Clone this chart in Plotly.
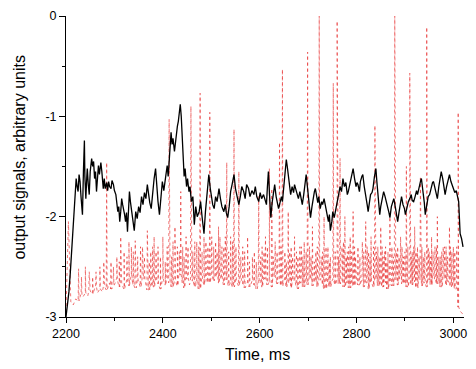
import plotly.graph_objects as go

# ---------------- data ----------------
black_t = [2200, 2203, 2206, 2209, 2212, 2214, 2216, 2218, 2221, 2223, 2225, 2227, 2229, 2231, 2234, 2236, 2238, 2239,
           2241, 2243, 2244, 2246, 2248, 2250, 2253, 2255, 2257, 2259, 2261, 2263, 2265, 2267, 2269, 2272, 2274, 2277,
           2279, 2281, 2284, 2286, 2288, 2290, 2293, 2295, 2298, 2300, 2303, 2305, 2307, 2309, 2311, 2313, 2315, 2317,
           2319, 2321, 2323, 2325, 2327, 2329, 2331, 2333, 2336, 2338, 2341, 2344, 2347, 2350, 2353, 2356, 2359, 2362,
           2365, 2368, 2371, 2373, 2376, 2379, 2382, 2385, 2387, 2390, 2393, 2395, 2397, 2399, 2402, 2405, 2407, 2409,
           2411, 2413, 2415, 2417, 2419, 2421, 2424, 2426, 2428, 2430, 2432, 2434, 2436, 2438, 2440, 2442, 2444, 2446,
           2449, 2451, 2454, 2456, 2459, 2462, 2465, 2468, 2471, 2475, 2478, 2481, 2485, 2488, 2491, 2493, 2495, 2498,
           2500, 2503, 2506, 2509, 2512, 2516, 2519, 2522, 2526, 2529, 2531, 2534, 2537, 2540, 2543, 2547, 2550, 2553,
           2557, 2560, 2563, 2567, 2570, 2573, 2577, 2580, 2584, 2588, 2591, 2594, 2598, 2601, 2604, 2608, 2611, 2614,
           2616, 2618, 2620, 2623, 2626, 2628, 2631, 2634, 2636, 2639, 2642, 2645, 2647, 2650, 2653, 2655, 2657, 2660,
           2662, 2664, 2667, 2670, 2672, 2675, 2678, 2680, 2683, 2686, 2688, 2691, 2693, 2696, 2699, 2702, 2705, 2708,
           2711, 2713, 2715, 2718, 2720, 2722, 2725, 2728, 2730, 2733, 2736, 2739, 2742, 2744, 2746, 2749, 2751, 2754,
           2757, 2760, 2763, 2766, 2769, 2772, 2775, 2778, 2781, 2783, 2786, 2789, 2791, 2793, 2796, 2799, 2801, 2803,
           2806, 2808, 2811, 2813, 2816, 2819, 2822, 2824, 2827, 2829, 2832, 2834, 2837, 2840, 2842, 2845, 2848, 2850,
           2853, 2856, 2859, 2862, 2865, 2867, 2869, 2872, 2875, 2877, 2880, 2882, 2885, 2888, 2891, 2893, 2896, 2899,
           2901, 2904, 2907, 2910, 2913, 2915, 2918, 2921, 2924, 2926, 2929, 2932, 2934, 2937, 2940, 2942, 2945, 2948,
           2951, 2954, 2957, 2959, 2962, 2965, 2967, 2970, 2973, 2975, 2978, 2981, 2983, 2986, 2989, 2992, 2995, 2998,
           3000, 3003, 3006, 3008, 3011, 3014, 3017, 3020]
black_v = [-3.00, -2.90, -2.75, -2.55, -2.31, -2.15, -1.98, -1.85, -1.62, -1.70, -1.75, -1.58, -1.65, -1.80, -1.98, -1.55, -1.24, -1.60,
           -1.82, -1.60, -1.52, -1.68, -1.78, -1.55, -1.42, -1.50, -1.45, -1.62, -1.55, -1.75, -1.60, -1.49, -1.58, -1.46, -1.55, -1.72,
           -1.62, -1.72, -1.66, -1.74, -1.65, -1.70, -1.72, -1.64, -1.68, -1.74, -1.78, -1.86, -1.95, -1.90, -2.05, -1.95, -1.82, -1.88,
           -1.92, -1.98, -2.05, -1.96, -2.15, -1.95, -1.75, -1.85, -1.96, -2.05, -2.14, -1.95, -2.02, -1.90, -1.96, -1.80, -1.88, -1.76,
           -1.82, -1.68, -1.80, -1.86, -1.92, -1.75, -1.62, -1.52, -1.68, -1.85, -1.98, -1.86, -1.72, -1.65, -1.74, -1.62, -1.55, -1.49,
           -1.60, -1.42, -1.30, -1.16, -1.28, -1.22, -1.35, -1.25, -1.18, -1.10, -1.05, -0.95, -0.88, -1.00, -1.20, -1.45, -1.60, -1.52,
           -1.70, -1.62, -1.75, -1.70, -1.85, -1.80, -2.08, -1.90, -2.00, -1.95, -1.85, -2.00, -2.17, -1.95, -1.75, -1.65, -1.58, -1.72,
           -1.80, -1.88, -1.92, -1.80, -1.85, -1.72, -1.82, -1.90, -1.95, -1.88, -1.96, -2.01, -1.90, -1.75, -1.68, -1.58, -1.72, -1.80,
           -1.88, -1.80, -1.70, -1.75, -1.82, -1.68, -1.72, -1.80, -1.74, -1.78, -1.70, -1.80, -1.85, -1.76, -1.82, -1.78, -1.84, -1.88,
           -1.70, -1.55, -1.75, -2.01, -1.85, -1.78, -1.68, -1.80, -1.86, -1.92, -1.86, -1.80, -1.85, -1.70, -1.55, -1.43, -1.50, -1.65,
           -1.72, -1.78, -1.70, -1.76, -1.68, -1.74, -1.80, -1.82, -1.75, -1.85, -1.88, -1.78, -1.70, -1.58, -1.72, -1.86, -2.01, -1.90,
           -1.80, -1.75, -1.72, -1.80, -1.86, -1.80, -1.92, -1.85, -1.88, -1.82, -1.90, -1.96, -2.05, -1.98, -2.14, -2.05, -1.95, -2.01,
           -1.92, -1.85, -1.78, -1.70, -1.75, -1.62, -1.70, -1.66, -1.78, -1.75, -1.68, -1.60, -1.56, -1.52, -1.62, -1.70, -1.66, -1.68,
           -1.75, -1.65, -1.60, -1.58, -1.70, -1.82, -1.88, -1.95, -1.85, -1.78, -1.76, -1.72, -1.60, -1.52, -1.65, -1.85, -1.98, -1.90,
           -1.80, -1.75, -1.80, -1.88, -1.92, -1.96, -2.01, -1.90, -1.86, -1.82, -1.90, -1.96, -2.05, -1.95, -1.85, -1.80, -1.88, -1.92,
           -1.98, -1.90, -1.85, -1.82, -1.78, -1.84, -1.85, -1.80, -1.74, -1.78, -1.70, -1.65, -1.62, -1.72, -1.86, -1.98, -1.88, -1.80,
           -1.78, -1.70, -1.66, -1.65, -1.72, -1.80, -1.82, -1.70, -1.60, -1.55, -1.62, -1.72, -1.78, -1.70, -1.64, -1.58, -1.65, -1.70,
           -1.72, -1.76, -1.74, -1.78, -1.85, -2.17, -2.22, -2.30]

# red baseline, one value every 5 ms from 2200 to 3020
red_base_t0 = 2200
red_base_step = 5
red_base_v = [
    -2.95, -2.05, -2.85, -2.88, -2.82, -2.84, -2.78, -2.80, -2.76, -2.79,
    -2.74, -2.77, -2.70, -2.76, -2.72, -2.75, -2.70, -2.73, -2.66, -2.72,
    -2.68, -2.62, -2.70, -2.66, -2.72, -2.64, -2.69, -2.60, -2.68, -2.71,
    -2.64, -2.70, -2.62, -2.68, -2.73, -2.65, -2.70, -2.62, -2.67, -2.72,
    -2.62, -2.68, -2.60, -2.66, -2.70, -2.63, -2.69, -2.58, -2.66, -2.71,
    -2.62, -2.68, -2.64, -2.70, -2.66, -2.72, -2.63, -2.68, -2.60, -2.66,
    -2.58, -2.64, -2.60, -2.66, -2.62, -2.68, -2.63, -2.69, -2.65, -2.70,
    -2.64, -2.69, -2.62, -2.67, -2.71, -2.65, -2.70, -2.63, -2.68, -2.72,
    -2.66, -2.70, -2.62, -2.68, -2.64, -2.70, -2.60, -2.67, -2.62, -2.69,
    -2.63, -2.70, -2.66, -2.71, -2.64, -2.69, -2.72, -2.66, -2.70, -2.64,
    -2.68, -2.62, -2.69, -2.65, -2.70, -2.63, -2.68, -2.72, -2.66, -2.70,
    -2.63, -2.68, -2.61, -2.67, -2.64, -2.70, -2.66, -2.71, -2.65, -2.69,
    -2.62, -2.68, -2.64, -2.70, -2.66, -2.72, -2.65, -2.70, -2.63, -2.69,
    -2.64, -2.70, -2.66, -2.72, -2.65, -2.69, -2.63, -2.68, -2.62, -2.67,
    -2.64, -2.70, -2.62, -2.68, -2.65, -2.71, -2.63, -2.69, -2.66, -2.70,
    -2.63, -2.68, -2.62, -2.67, -2.64, -2.70, -2.62, -2.68, -2.65, -2.70,
    -2.66, -2.72, -2.90, -2.95, -2.97]

# red spikes (time, peak value)
spike_t = [2226, 2240, 2262, 2284, 2293, 2305, 2313, 2320, 2335, 2343, 2354, 2362, 2368, 2375, 2382, 2390,
           2400, 2405, 2413, 2425, 2430, 2437, 2448, 2452, 2458, 2470, 2477, 2485, 2497, 2505, 2515, 2522,
           2532, 2540, 2547, 2557, 2565, 2575, 2585, 2598, 2605, 2612, 2620, 2625, 2632, 2641, 2647, 2652,
           2659, 2665, 2672, 2679, 2686, 2692, 2699, 2709, 2716, 2723, 2733, 2741, 2746, 2752, 2760, 2766,
           2770, 2776, 2781, 2787, 2793, 2798, 2803, 2812, 2819, 2825, 2830, 2838, 2844, 2850, 2855, 2860,
           2865, 2869, 2879, 2885, 2891, 2897, 2903, 2910, 2915, 2920, 2926, 2932, 2938, 2945, 2950, 2955,
           2962, 2967, 2973, 2979, 2985, 2992, 2997, 3000, 3010]
spike_v = [-2.52, -2.50, -2.55, -1.46, -2.45, -2.40, -2.20, -2.35, -2.30, -2.24, -2.30, -2.40, -2.14, -2.35, -2.20, -2.30,
           -2.20, -2.45, -1.03, -2.10, -2.30, -1.75, -2.20, -2.30, -0.90, -2.25, -0.77, -2.20, -0.96, -2.30, -2.10, -2.30,
           -1.46, -2.20, -1.13, -1.55, -2.30, -2.20, -2.40, -1.80, -2.30, -2.20, -1.52, -1.72, -2.25, -1.26, -0.53, -2.35,
           -1.95, -2.30, -2.20, -2.40, -2.30, -2.25, -0.36, -2.10, -2.35, 0.00, -2.00, -2.30, -2.40, -0.67, -0.05, -1.42,
           -2.30, -2.00, -2.35, -2.20, -1.95, -2.40, -2.30, -2.25, -2.05, -2.35, -2.20, -1.09, -2.30, -2.10, -2.40, -2.30,
           -2.35, -2.00, 0.00, -2.30, -2.20, -2.40, -1.50, -0.57, -2.35, -2.10, -2.30, -1.60, -2.40, -0.11, -2.35, -2.20,
           -2.30, -2.00, -2.40, -2.30, -2.30, -2.10, -2.35, -2.30, -0.96]

# smaller red spikes filling the noisy band
small_spike_t = [2232, 2248, 2255, 2270, 2278, 2298, 2310, 2326, 2330, 2339, 2348, 2358, 2372, 2379, 2386, 2395,
                 2409, 2418, 2421, 2434, 2441, 2444, 2462, 2466, 2474, 2481, 2489, 2493, 2501, 2509, 2512, 2518,
                 2526, 2529, 2536, 2544, 2551, 2561, 2569, 2579, 2589, 2593, 2602, 2609, 2616, 2628, 2636, 2644,
                 2655, 2662, 2668, 2676, 2683, 2689, 2696, 2703, 2706, 2713, 2719, 2727, 2730, 2737, 2744, 2756,
                 2763, 2773, 2779, 2784, 2790, 2796, 2807, 2815, 2822, 2828, 2835, 2841, 2847, 2853, 2858, 2863,
                 2873, 2876, 2882, 2888, 2894, 2900, 2906, 2913, 2918, 2923, 2929, 2935, 2941, 2948, 2953, 2958,
                 2965, 2970, 2976, 2982, 2988, 2994, 3003, 3007]
small_spike_v = [-2.60, -2.55, -2.60, -2.50, -2.45, -2.50, -2.45, -2.40, -2.25, -2.35, -2.40, -2.30, -2.45, -2.30, -2.35, -2.40,
                 -2.30, -2.40, -2.25, -2.35, -2.30, -2.40, -2.35, -2.25, -2.30, -2.35, -2.25, -2.30, -2.20, -2.25, -2.35, -2.20,
                 -2.30, -2.20, -2.35, -2.25, -2.30, -2.40, -2.35, -2.45, -2.35, -2.45, -2.40, -2.35, -2.30, -2.40, -2.35, -2.30,
                 -2.45, -2.35, -2.40, -2.35, -2.30, -2.40, -2.35, -2.30, -2.40, -2.45, -2.30, -2.40, -2.35, -2.30, -2.45, -2.35,
                 -2.40, -2.25, -2.40, -2.30, -2.35, -2.30, -2.40, -2.35, -2.30, -2.40, -2.30, -2.35, -2.40, -2.30, -2.35, -2.45,
                 -2.30, -2.40, -2.35, -2.40, -2.30, -2.35, -2.30, -2.40, -2.30, -2.35, -2.40, -2.30, -2.35, -2.30, -2.40, -2.35,
                 -2.30, -2.40, -2.35, -2.30, -2.40, -2.30, -2.35, -2.30]

x_tick_vals = [2200, 2400, 2600, 2800, 3000]
y_tick_vals = [0, -1, -2, -3]
y_tick_text = ["0", "-1", "-2", "-3"]

# ---------------- build red series: baseline with narrow spikes ----------------
red_pts = [(red_base_t0 + i * red_base_step, v) for i, v in enumerate(red_base_v)]
for t, v in list(zip(spike_t, spike_v)) + list(zip(small_spike_t, small_spike_v)):
    k = min(len(red_base_v) - 1, max(0, round((t - red_base_t0) / red_base_step)))
    foot = red_base_v[k]
    red_pts += [(t - 0.9, foot), (t, v), (t + 0.9, foot)]
red_pts.sort(key=lambda p: p[0])
red_t = [p[0] for p in red_pts]
red_v = [p[1] for p in red_pts]

fig = go.Figure()
fig.add_trace(go.Scatter(x=red_t, y=red_v, mode="lines",
                         line=dict(color="rgba(232,50,50,0.85)", width=0.8, dash="dot"),
                         showlegend=False, hoverinfo="skip"))
fig.add_trace(go.Scatter(x=black_t, y=black_v, mode="lines",
                         line=dict(color="black", width=1.3),
                         showlegend=False, hoverinfo="skip"))

font = "Liberation Sans, Arial, sans-serif"
fig.update_layout(
    width=476, height=369,
    margin=dict(l=66, r=9, t=12, b=52),
    paper_bgcolor="white", plot_bgcolor="white",
    font=dict(family=font, color="black", size=12.5),
    xaxis=dict(range=[2200, 3022], tickmode="array", tickvals=x_tick_vals,
               ticks="outside", ticklen=5, tickwidth=1, tickcolor="black",
               showline=True, linecolor="black", linewidth=1, showgrid=False, zeroline=False,
               minor=dict(tickmode="linear", tick0=2200, dtick=100, ticks="outside", ticklen=3,
                          tickcolor="black", showgrid=False),
               tickfont=dict(size=12.5)),
    yaxis=dict(range=[-3, 0], tickmode="array", tickvals=y_tick_vals, ticktext=y_tick_text,
               ticks="outside", ticklen=6, tickwidth=1, tickcolor="black",
               showline=True, linecolor="black", linewidth=1, showgrid=False, zeroline=False,
               minor=dict(tickmode="linear", tick0=0, dtick=0.5, ticks="outside", ticklen=3,
                          tickcolor="black", showgrid=False),
               tickfont=dict(size=12.5)),
    annotations=[
        dict(text="Time, ms", xref="paper", yref="paper", x=0.481, y=-0.125,
             xanchor="center", yanchor="middle", showarrow=False, font=dict(size=16)),
        dict(text="output signals, arbitrary units", xref="paper", yref="paper", x=-0.117, y=0.531,
             xanchor="center", yanchor="middle", textangle=-90, showarrow=False, font=dict(size=16)),
    ],
)

fig.write_html("out.html", config={"displayModeBar": False},
               post_script="document.body.style.margin='0';")
